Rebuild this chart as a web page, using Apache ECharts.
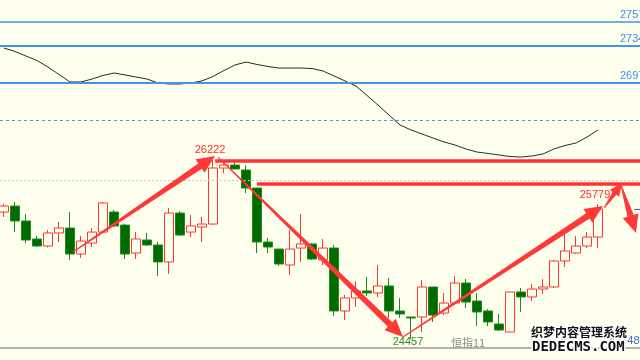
<!DOCTYPE html>
<html><head><meta charset="utf-8">
<script src="https://cdn.jsdelivr.net/npm/echarts@6/dist/echarts.min.js"></script>
<style>html,body{margin:0;padding:0;background:#ffffee}#c{width:640px;height:360px}</style>
</head><body><div id="c"></div>
<script>
// ---- data ----
// candles: [open, close, low, high]
const candles = [
 [25705,25764,25656,25784],[25764,25617,25508,25804],[25617,25430,25400,25685],[25440,25371,25361,25469],
 [25371,25499,25358,25528],[25499,25548,25410,25607],[25548,25292,25233,25705],[25292,25420,25253,25469],
 [25400,25508,25361,25548],[25508,25794,25505,25804],[25705,25568,25558,25725],[25577,25292,25243,25587],
 [25302,25440,25243,25508],[25430,25381,25371,25499],[25381,25214,25076,25410],[25214,25695,25096,25745],
 [25695,25479,25469,25715],[25508,25568,25459,25676],[25558,25587,25410,25656],[25587,26138,25580,26222],
 [26138,26167,26089,26197],[26167,26128,26125,26197],[26118,25941,25892,26167],[25941,25410,25302,25941],
 [25410,25361,25302,25450],[25341,25194,25174,25341],[25184,25341,25086,25528],[25351,25391,25214,25685],
 [25391,25243,25233,25400],[25233,25351,25184,25440],[25351,24732,24683,25381],[24732,24860,24643,24889],
 [24860,24929,24771,25027],[24929,24909,24879,25066],[24909,24978,24869,25184],[24978,24732,24663,25056],
 [24732,24702,24663,24860],[24673,24663,24457,24673],[24673,24968,24525,25037],[24968,24692,24624,24968],
 [24712,24810,24692,24909],[24810,25007,24791,25076],[25007,24820,24761,25046],[24830,24722,24584,24909],
 [24732,24624,24584,24751],[24604,24545,24535,24702],[24525,24919,24525,24919],[24919,24870,24722,24958],
 [24870,24948,24830,24997],[24948,24968,24899,25046],[24968,25224,24958,25233],[25224,25322,25164,25518],
 [25302,25371,25292,25469],[25371,25459,25351,25508],[25459,25735,25351,25779]
];
const ma = [27318,27284,27239,27195,27131,27057,26984,26984,27013,27048,
 27072,27053,27033,27013,26974,26964,26964,26974,26994,27038,
 27097,27151,27180,27156,27136,27121,27121,27121,27116,27092,
 27043,26994,26944,26851,26757,26659,26561,26512,26472,26433,
 26394,26364,26325,26295,26281,26266,26251,26246,26256,26276,
 26325,26359,26384,26443,26512];
const blueLevels = [27575, 27345, 26975];
const blueDottedLevel = 26610;
const grayGuideLevel = 26020;
const baseLevel = 24368;
const resistance = [[19.2, 26207], [23.0, 25981]];      // [start index, price]
const arrows = [                                          // [x0, p0, x1, p1]
 [6.27, 25312, 19.18, 26256],
 [19.45, 26246, 36.27, 24476],
 [36.27, 24476, 54.45, 25764],
 [54.55, 25745, 56.18, 25991],
 [56.09, 25971, 57.45, 25499]
];
const extremes = [[19, 26222, 'high'], [37, 24457, 'low'], [54, 25779, 'high']];
const seriesName = '恒指11';
const sideValue = '47748';

// ---- chart ----
const X_MIN = -4/11, X_MAX = 636/11;
const chart = echarts.init(document.getElementById('c'), null, {renderer:'canvas'});
const RED = '#ff3333', GREEN = '#006c00';
const lastClose = candles[candles.length-1][1];

function renderArrow(params, api) {
  const p0 = api.coord([api.value(0), api.value(1)]);
  const p1 = api.coord([api.value(2), api.value(3)]);
  const dx = p1[0]-p0[0], dy = p1[1]-p0[1], len = Math.hypot(dx, dy);
  const ux = dx/len, uy = dy/len, nx = -uy, ny = ux;
  const headLen = Math.min(18, len*0.42), headW = headLen*0.9, w1 = headLen*0.36, w0 = 1;
  const bx = p1[0]-ux*headLen, by = p1[1]-uy*headLen;
  const pts = [
    [p0[0]+nx*w0/2, p0[1]+ny*w0/2],
    [bx+nx*w1/2, by+ny*w1/2],
    [bx+nx*headW/2, by+ny*headW/2],
    p1,
    [bx-nx*headW/2, by-ny*headW/2],
    [bx-nx*w1/2, by-ny*w1/2],
    [p0[0]-nx*w0/2, p0[1]-ny*w0/2]
  ];
  return {type:'polygon', shape:{points:pts}, style:{fill:'#ff3838'}};
}

const option = {
  backgroundColor: '#ffffee',
  animation: false,
  grid: {left:0, right:0, top:0, bottom:0},
  xAxis: {type:'value', min:X_MIN, max:X_MAX, show:false},
  yAxis: {type:'value', min:24250, max:27790, show:false},
  series: [
    {
      type:'line', data: ma.map((v,i)=>[i,v]), symbol:'none', silent:true, z:2,
      lineStyle:{color:'#2a2a2a', width:1},
      markLine:{
        symbol:'none', silent:true, label:{show:false}, animation:false,
        data:[
          ...blueLevels.map((v,k)=>({yAxis:v, lineStyle:{color:'#3f95f2', width:k===0?1.5:2, type:'solid'}})),
          {yAxis:blueDottedLevel, lineStyle:{color:'#3399ff', width:1.2, type:[3,3]}},
          {yAxis:grayGuideLevel, lineStyle:{color:'#c4c4c4', width:1, type:[2,2]}},
          {yAxis:baseLevel, lineStyle:{color:'#9a9a9a', width:1.5, type:'solid'}}
        ]
      }
    },
    {
      type:'candlestick', data: candles.map((c,i)=>[i, ...c]), barWidth: 9, z:3,
      itemStyle:{color:'#ffffee', color0:GREEN, borderColor:RED, borderColor0:'#1f8a1f', borderWidth:1}
    },
    {
      type:'custom', data: arrows, renderItem: renderArrow, z:6, silent:true,
      markLine:{
        symbol:'none', silent:true, label:{show:false}, animation:false,
        data:[
          ...resistance.map(r=>[{coord:[r[0], r[1]]},{coord:[X_MAX, r[1]]}]),
          [{coord:[57.3, lastClose]},{coord:[X_MAX, lastClose]}]
        ].map((d,k)=>{ d[0].lineStyle = k<resistance.length ? {color:RED, width:3.5, type:'solid'} : {color:'#5a5aa8', width:1.2, type:'solid'}; return d; })
      }
    }
  ]
};
chart.setOption(option);

const px = (x, y) => chart.convertToPixel({gridIndex:0}, [x, y]);
const graphics = [];
extremes.forEach(([i, v, kind]) => {
  const p = px(i, v);
  graphics.push({type:'text', x:p[0]-3, y: kind==='high' ? p[1]-4 : p[1]-2, z:10,
    style:{text:String(v), fill: kind==='high' ? '#ff2a2a' : '#2c8a2c', font:'11px "Liberation Sans", Arial',
      textAlign:'center', textVerticalAlign: kind==='high' ? 'bottom' : 'top'}});
});
blueLevels.forEach(v => {
  const p = px(56.0, v);
  graphics.push({type:'text', x:620, y:p[1]-1, z:10,
    style:{text:String(v), fill:'#3a8ef0', font:'11px "Liberation Sans", Arial', textAlign:'left', textVerticalAlign:'bottom'}});
});
graphics.push({type:'text', x:451, y:343, z:10,
  style:{text:seriesName, fill:'#8a8a8a', font:'11px "Noto Sans CJK SC"', textAlign:'left', textVerticalAlign:'middle'}});
graphics.push({type:'text', x:609, y:341, z:10,
  style:{text:sideValue, fill:'#3a6fd0', font:'11px "Liberation Sans", Arial', textAlign:'left', textVerticalAlign:'middle'}});
graphics.push({type:'text', x:531, y:332, z:20,
  style:{text:'织梦内容管理系统', fill:'#111', stroke:'#fff', lineWidth:3, font:'bold 12px "Noto Sans CJK SC"', textAlign:'left', textVerticalAlign:'middle'}});
graphics.push({type:'text', x:532, y:347, z:20,
  style:{text:'DEDECMS.COM', fill:'#111', stroke:'#fff', lineWidth:3, font:'bold 14px "DejaVu Sans Mono"', textAlign:'left', textVerticalAlign:'middle'}});
chart.setOption({graphic: graphics});
</script>
</body></html>
